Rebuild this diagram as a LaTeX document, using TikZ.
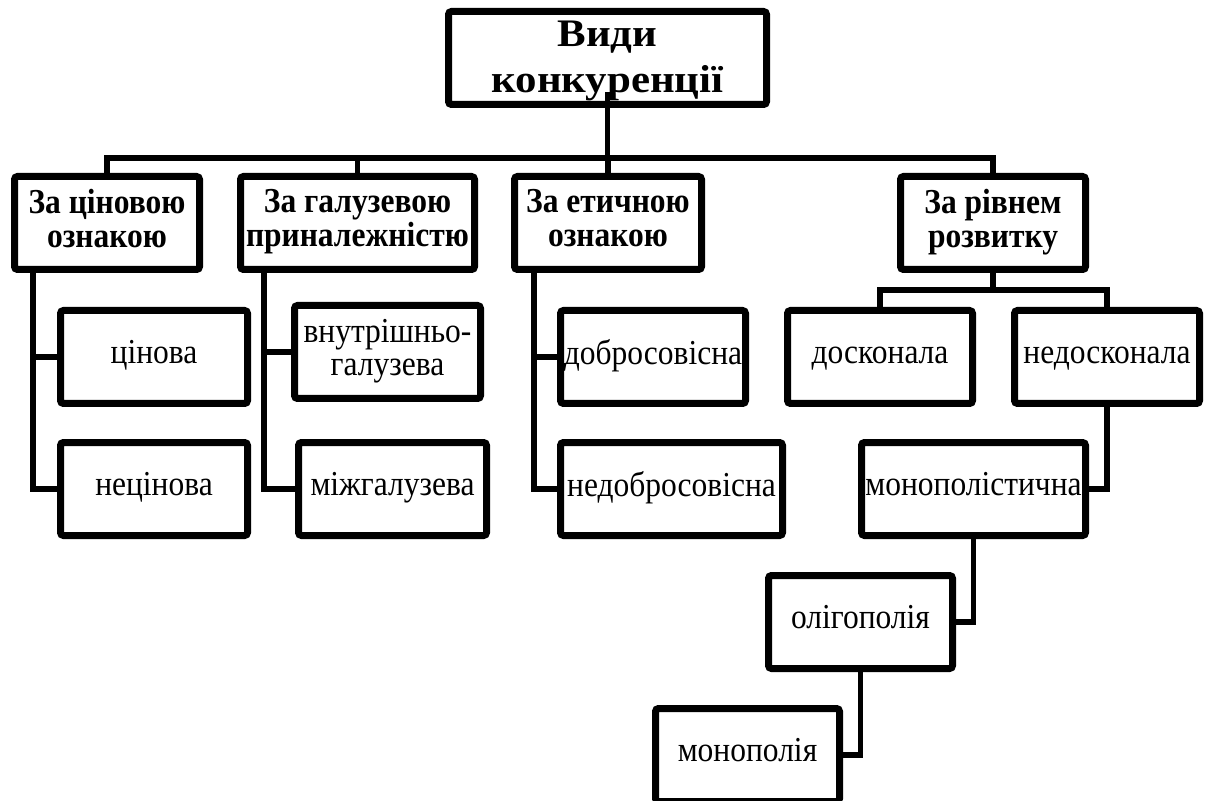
\documentclass[tikz,border=0pt]{standalone}
\usepackage{fontspec}
\setmainfont{Liberation Serif}
\newfontfamily\narrowserif{Liberation Serif}[FakeStretch=0.9]
\newfontfamily\wideserif{Liberation Serif}[FakeStretch=1.1]
\usetikzlibrary{shadows,calc}

\begin{document}
\begin{tikzpicture}[
    x=0.5pt, y=-0.5pt,
    box/.style={rectangle, draw, line width=3.5pt, fill=white, rounded corners=1.5pt, inner sep=0pt, minimum height=46.5pt, text centered, align=center, drop shadow={shadow xshift=1pt, shadow yshift=-1.5pt, opacity=0.3}},
    head/.style={box, execute at begin node=\strut, execute at end node=\strut, font=\narrowserif\fontsize{17.5}{17}\selectfont\bfseries},
    block/.style={box, execute at begin node=\strut, execute at end node=\strut, font=\narrowserif\fontsize{17.5}{16.5}\selectfont},
    link/.style={line width=2.6pt}
]
    \useasboundingbox (0,0) rectangle (1208,801);

    % Nodes
    \node[box, minimum width=159pt, font=\wideserif\fontsize{19.5}{23}\selectfont\bfseries] (root) at (607.5,58) {};
    \node[font=\wideserif\fontsize{19.5}{23}\selectfont\bfseries, align=center, inner sep=0pt] (roottext) at (607.5,61) {Види\\конкуренції};

    \node[head, minimum width=92.5pt] (price) at (107,223) {За ціновою\\ознакою};
    \node[head, minimum width=117pt] (branch) at (357.5,223) {За галузевою\\приналежністю};
    \node[head, minimum width=93.5pt] (ethic) at (608,223) {За етичною\\ознакою};
    \node[head, minimum width=92.5pt] (level) at (993,223) {За рівнем\\розвитку};

    \node[block, minimum width=93.5pt] (cin) at (154,357) {цінова};
    \node[block, minimum width=93.5pt] (necin) at (154,489) {нецінова};
    \node[block, minimum width=93pt] (vnutr) at (387.5,352) {внутрішньо-\\галузева};
    \node[block, minimum width=94pt] (mizh) at (392.5,489) {міжгалузева};
    \node[block, minimum width=92.5pt] (dobro) at (653,357) {добросовісна};
    \node[block, minimum width=111pt] (nedobro) at (671.5,489) {недобросовісна};
    \node[block, minimum width=92.5pt] (dosk) at (880,357) {досконала};
    \node[block, minimum width=92.5pt] (nedosk) at (1107,357) {недосконала};
    \node[block, minimum width=112pt] (monist) at (973.5,489) {монополістична};
    \node[block, minimum width=92pt] (oligo) at (860.5,622) {олігополія};
    \node[block, minimum width=92pt] (monop) at (747.5,755) {монополія};

    \coordinate (bar) at (607.5,158);
    \coordinate (sub) at (993,290);

    % Lines
    \draw[link] ([yshift=8pt]root.south) -- (bar);
    \draw[link] (price.north) |- (bar);
    \draw[link] (branch.north) |- (bar);
    \draw[link] (ethic.north) |- (bar);
    \draw[link] (level.north) |- (bar);

    \draw[link] ($(price.south west)+(22,0)$) |- (cin.west);
    \draw[link] ($(price.south west)+(22,0)$) |- (necin.west);
    \draw[link] ($(branch.south west)+(27,0)$) |- (vnutr.west);
    \draw[link] ($(branch.south west)+(27,0)$) |- (mizh.west);
    \draw[link] ($(ethic.south west)+(23,0)$) |- (dobro.west);
    \draw[link] ($(ethic.south west)+(23,0)$) |- (nedobro.west);

    \draw[link] (level.south) -- (sub);
    \draw[link] (dosk.north) |- (sub);
    \draw[link] (nedosk.north) |- (sub);
    \draw[link] (nedosk.south) |- (monist.east);
    \draw[link] (monist.south) |- (oligo.east);
    \draw[link] (oligo.south) |- (monop.east);
\end{tikzpicture}
\end{document}
